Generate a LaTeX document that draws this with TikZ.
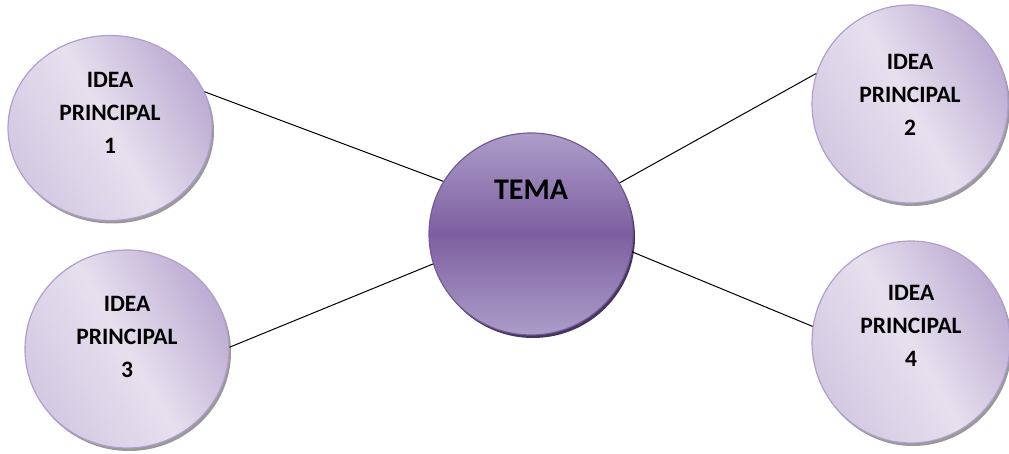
\documentclass[tikz,border=0pt]{standalone}
\usepackage{fontspec}
\setmainfont{Carlito}[BoldFont={Carlito Bold}]
\usetikzlibrary{shapes.geometric,shadows}
\definecolor{ideafill}{HTML}{E6E0EE}
\definecolor{ideadark}{HTML}{BDACD3}
\definecolor{idealeft}{HTML}{D3C9E2}
\definecolor{ideaborder}{HTML}{B09ECB}
\definecolor{temalight}{HTML}{AC9DC9}
\definecolor{temamid}{HTML}{7D5FA0}
\definecolor{temaborder}{HTML}{755A99}
\begin{document}
\begin{tikzpicture}[x=1pt,y=-1pt,
  idea/.style={ellipse,draw=ideaborder,line width=1.2pt,
    left color=idealeft,right color=ideadark,middle color=ideafill,shading angle=120,
    drop shadow={shadow xshift=2pt,shadow yshift=-3pt,fill=black!40,opacity=1}},
  ideatext/.style={font=\bfseries\fontsize{23.5}{33}\selectfont,align=center},
  tema/.style={ellipse,draw=temaborder,line width=1.2pt,
    top color=temalight,bottom color=temalight,middle color=temamid,
    drop shadow={shadow xshift=2pt,shadow yshift=-3pt,fill=temaborder!60!black,opacity=1}}]
\useasboundingbox (0,0) rectangle (1009,454);

\node[tema,minimum width=204pt,minimum height=202pt,
  label={[font=\bfseries\fontsize{30}{33}\selectfont,yshift=44pt]center:TEMA}] (T) at (531,234) {};
\node[idea,minimum width=204pt,minimum height=185pt,
  label={[ideatext,yshift=15pt]center:IDEA\\PRINCIPAL\\1}] (P1) at (110,128) {};
\node[idea,minimum width=196pt,minimum height=198pt,
  label={[ideatext,yshift=9pt]center:IDEA\\PRINCIPAL\\2}] (P2) at (910,104) {};
\node[idea,minimum width=204pt,minimum height=198pt,
  label={[ideatext,yshift=12pt]center:IDEA\\PRINCIPAL\\3}] (P3) at (127,349) {};
\node[idea,minimum width=198pt,minimum height=202pt,
  label={[ideatext,yshift=16pt]center:IDEA\\PRINCIPAL\\4}] (P4) at (911,342) {};

\draw[line width=1pt] (P1.21) -- (T.149);
\draw[line width=1pt] (P3.1) -- (T.197);
\draw[line width=1pt] (P2.162) -- (T.30);
\draw[line width=1pt] (P4.171) -- (T.-10);
\end{tikzpicture}
\end{document}
